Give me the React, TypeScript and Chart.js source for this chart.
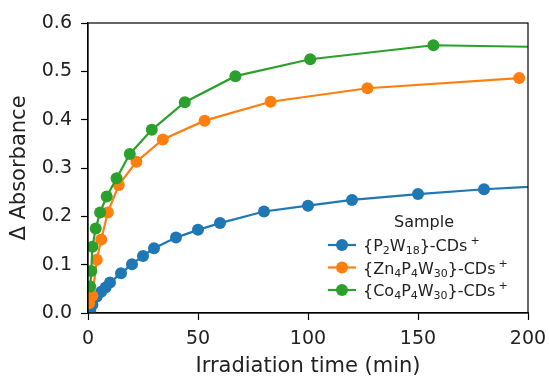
import React, { useEffect, useRef } from 'react';
import { Chart, registerables } from 'chart.js';

Chart.register(...registerables);

// ---- data ----
const p2w18Time = [0, 1, 2, 4, 6, 8, 10, 15, 20, 25, 30, 40, 50, 60, 80, 100, 120, 150, 180, 240];
const p2w18Abs = [0, 0.005, 0.017, 0.034, 0.044, 0.053, 0.063, 0.082, 0.101, 0.118, 0.134, 0.156, 0.172, 0.186, 0.21, 0.222, 0.234, 0.246, 0.256, 0.271];

const zn4Time = [0.5, 2, 4, 6, 9, 14, 22, 34, 53, 83, 127, 196];
const zn4Abs = [0.02, 0.035, 0.11, 0.152, 0.208, 0.265, 0.313, 0.359, 0.398, 0.437, 0.465, 0.486];

const co4Time = [1, 1.5, 2, 3.5, 5.5, 8.5, 13, 19, 29, 44, 67, 101, 157, 240];
const co4Abs = [0.055, 0.087, 0.137, 0.175, 0.208, 0.241, 0.279, 0.329, 0.379, 0.436, 0.49, 0.525, 0.554, 0.548];

const seriesLabels = ['{P_2W_18}-CDs^+', '{Zn_4P_4W_30}-CDs^+', '{Co_4P_4W_30}-CDs^+'];
const seriesColors = ['#1f77b4', '#ff7f0e', '#2ca02c'];
const legendTitle = 'Sample';
const xTitle = 'Irradiation time (min)';
const yTitle = 'Δ Absorbance';
const xMin = 0, xMax = 200, xStep = 50;
const yMin = 0, yMax = 0.6, yStep = 0.1;

const FONT = '"DejaVu Sans", sans-serif';

type Seg = { t: string; k: 'n' | 'sub' | 'sup' };
function parseLabel(s: string): Seg[] {
  const out: Seg[] = [];
  let i = 0;
  let cur = '';
  while (i < s.length) {
    const c = s[i];
    if (c === '_') {
      if (cur) { out.push({ t: cur, k: 'n' }); cur = ''; }
      i++;
      let d = '';
      while (i < s.length && /[0-9]/.test(s[i])) { d += s[i]; i++; }
      out.push({ t: d, k: 'sub' });
    } else if (c === '^') {
      if (cur) { out.push({ t: cur, k: 'n' }); cur = ''; }
      out.push({ t: s[i + 1], k: 'sup' });
      i += 2;
    } else {
      cur += c;
      i++;
    }
  }
  if (cur) out.push({ t: cur, k: 'n' });
  return out;
}
function plainLabel(s: string) {
  return s.replace(/[_^]/g, '');
}

const framePlugin = {
  id: 'frame',
  afterDatasetsDraw(chart: any) {
    const { ctx, chartArea: a } = chart;
    ctx.save();
    ctx.strokeStyle = '#000';
    ctx.lineWidth = 1.2;
    ctx.strokeRect(a.left, a.top, a.right - a.left, a.bottom - a.top);
    ctx.restore();
  },
};

const legendPlugin = {
  id: 'insideLegend',
  afterDatasetsDraw(chart: any) {
    const { ctx, chartArea: a } = chart;
    ctx.save();
    const baseSize = 16;
    const smallSize = 11;
    const lineStart = a.right - 200;
    const lineEnd = a.right - 172;
    const textX = a.right - 165;
    const rowY0 = a.bottom - 68;
    const rowGap = 22.5;
    ctx.fillStyle = '#222';
    ctx.font = `${baseSize}px ${FONT}`;
    ctx.textAlign = 'center';
    ctx.textBaseline = 'middle';
    ctx.fillText(legendTitle, a.right - 104, rowY0 - 22);
    ctx.textAlign = 'left';
    seriesLabels.forEach((lab, i) => {
      const y = rowY0 + i * rowGap;
      const col = seriesColors[i];
      ctx.strokeStyle = col;
      ctx.lineWidth = 2.2;
      ctx.beginPath();
      ctx.moveTo(lineStart, y);
      ctx.lineTo(lineEnd, y);
      ctx.stroke();
      ctx.fillStyle = col;
      ctx.beginPath();
      ctx.arc((lineStart + lineEnd) / 2, y, 6, 0, Math.PI * 2);
      ctx.fill();
      let x = textX;
      ctx.fillStyle = '#222';
      ctx.textBaseline = 'alphabetic';
      const base = y + 6;
      parseLabel(lab).forEach((seg) => {
        if (seg.k === 'n') {
          ctx.font = `${baseSize}px ${FONT}`;
          ctx.fillText(seg.t, x, base);
          x += ctx.measureText(seg.t).width;
        } else if (seg.k === 'sub') {
          ctx.font = `${smallSize}px ${FONT}`;
          ctx.fillText(seg.t, x, base + 3);
          x += ctx.measureText(seg.t).width;
        } else {
          x += 3;
          ctx.font = `${smallSize}px ${FONT}`;
          ctx.fillText(seg.t, x, base - 7);
          x += ctx.measureText(seg.t).width;
        }
      });
    });
    ctx.restore();
  },
};

export default function App() {
  const ref = useRef<HTMLCanvasElement | null>(null);
  useEffect(() => {
    document.body.style.margin = '0';
    const times = [p2w18Time, zn4Time, co4Time];
    const abs = [p2w18Abs, zn4Abs, co4Abs];
    const chart = new Chart(ref.current as HTMLCanvasElement, {
      type: 'line',
      data: {
        datasets: seriesLabels.map((lab, i) => ({
          label: plainLabel(lab),
          data: times[i].map((t, j) => ({ x: t, y: abs[i][j] })),
          borderColor: seriesColors[i],
          backgroundColor: seriesColors[i],
          pointBackgroundColor: seriesColors[i],
          pointBorderWidth: 0,
          pointRadius: 6,
          borderWidth: 2.2,
          tension: 0,
          order: 2 - i,
        })),
      },
      options: {
        animation: false,
        responsive: false,
        layout: { padding: { left: 0, right: 21, top: 23, bottom: 0 } },
        plugins: { legend: { display: false }, tooltip: { enabled: false } },
        scales: {
          x: {
            type: 'linear',
            min: xMin,
            max: xMax,
            ticks: { stepSize: xStep, color: '#222', font: { family: FONT, size: 19 }, padding: 8, maxRotation: 0 },
            grid: { drawOnChartArea: false, drawTicks: true, tickLength: 7, tickColor: '#000', tickWidth: 1.2 },
            border: { display: true, color: '#000', width: 1.2 },
            title: { display: true, text: xTitle, color: '#222', font: { family: FONT, size: 21 }, padding: { top: 0, bottom: -3 } },
            afterFit: (s: any) => { s.height = 63; s.paddingLeft = 0; s.paddingRight = 0; },
          },
          y: {
            type: 'linear',
            min: yMin,
            max: yMax,
            ticks: { stepSize: yStep, color: '#222', font: { family: FONT, size: 19 }, padding: 9, callback: (v: any) => Number(v).toFixed(1) },
            grid: { drawOnChartArea: false, drawTicks: true, tickLength: 7, tickColor: '#000', tickWidth: 1.2 },
            border: { display: true, color: '#000', width: 1.2 },
            title: { display: true, text: yTitle, color: '#222', font: { family: FONT, size: 21 }, padding: { top: 7, bottom: 0 } },
            afterFit: (s: any) => { s.width = 88; s.paddingTop = 0; s.paddingBottom = 0; },
          },
        },
      },
      plugins: [framePlugin, legendPlugin],
    });
    return () => chart.destroy();
  }, []);
  return (
    <div style={{ width: 549, height: 376, background: '#fff' }}>
      <canvas ref={ref} width={549} height={376} style={{ display: 'block' }} />
    </div>
  );
}
